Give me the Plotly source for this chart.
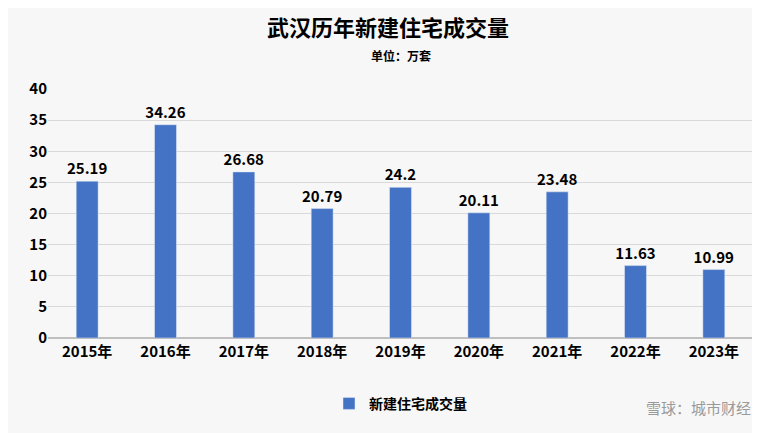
import plotly.graph_objects as go

years = ["2015年", "2016年", "2017年", "2018年", "2019年", "2020年", "2021年", "2022年", "2023年"]
volumes = [25.19, 34.26, 26.68, 20.79, 24.2, 20.11, 23.48, 11.63, 10.99]
labels = ["25.19", "34.26", "26.68", "20.79", "24.2", "20.11", "23.48", "11.63", "10.99"]

fig = go.Figure()
fig.add_trace(go.Bar(
    x=years, y=volumes, name="<b>新建住宅成交量</b>",
    marker=dict(color="#4472C4"), width=0.28,
    text=labels, textposition="outside", texttemplate="<b>%{text}</b>",
    textfont=dict(size=15, color="#000000", family="Noto Sans CJK SC"),
    constraintext="none", cliponaxis=False,
))

fig.update_layout(
    width=760, height=433,
    paper_bgcolor="#f7f7f7", plot_bgcolor="#f7f7f7",
    margin=dict(l=40, r=15, t=81, b=103),
    font=dict(family="Noto Sans CJK SC", color="#000000"),
    title=dict(text="<b>武汉历年新建住宅成交量</b>", x=0.5, y=0.97, xanchor="center",
               font=dict(size=22)),
    showlegend=True,
    legend=dict(orientation="h", x=0.5, xanchor="center", y=-0.2, yanchor="top",
                font=dict(size=14)),
)
fig.add_annotation(text="<b>单位：万套</b>", x=0.5, y=1.175, xref="paper", yref="paper",
                   showarrow=False, font=dict(size=12))
fig.add_annotation(text="雪球：城市财经", x=1.0, y=-0.33, xref="paper", yref="paper",
                   xanchor="right", showarrow=False, font=dict(size=15, color="#9a9a9a"))
fig.update_yaxes(range=[0, 40], dtick=5, gridcolor="#d9d9d9", zeroline=True,
                 zerolinecolor="#bfbfbf", tickfont=dict(size=15), showline=False,
                 tickprefix="<b>", ticksuffix="</b>")
fig.update_xaxes(tickfont=dict(size=15), showline=True, linecolor="#bfbfbf",
                 ticktext=["<b>%s</b>" % y for y in years], tickvals=years)

fig.write_html("out.html")
